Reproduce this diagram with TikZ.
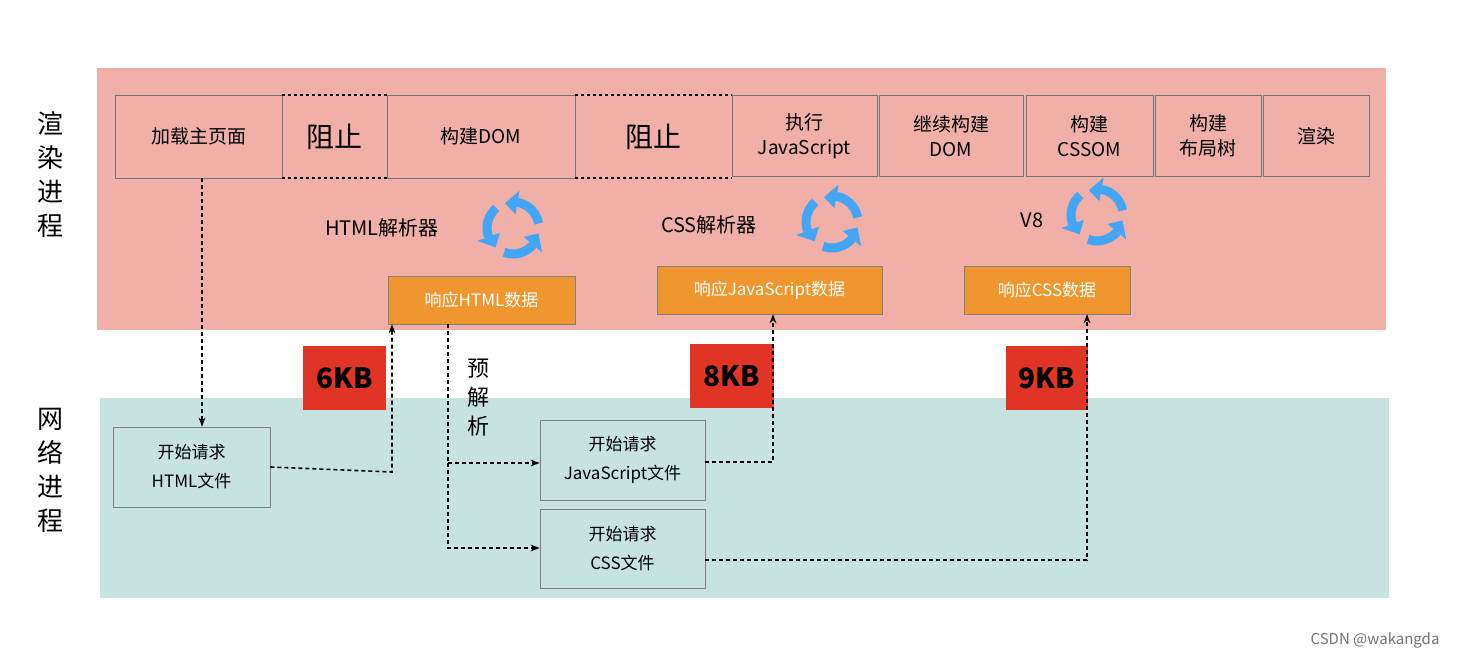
\documentclass[tikz,border=0pt]{standalone}
\usepackage{fontspec}
\setmainfont{Noto Sans CJK SC}
\usetikzlibrary{arrows.meta}
\definecolor{pinkbg}{HTML}{F0B0A8}
\definecolor{tealbg}{HTML}{C6E3DF}
\definecolor{org}{HTML}{F0962E}
\definecolor{redb}{HTML}{E03426}
\definecolor{cyc}{HTML}{42A5F5}
\tikzset{
 box/.style={draw=black!55,line width=0.8pt,font=\fontsize{19}{25}\selectfont,align=center},
 ob/.style={draw=black!50,fill=org,text=white,font=\fontsize{17}{20}\selectfont},
 rb/.style={fill=redb,font=\bfseries\fontsize{28}{30}\selectfont},
 nb/.style={draw=black!50,line width=0.8pt,fill=tealbg,font=\fontsize{17}{29}\selectfont,align=center},
 da/.style={dash pattern=on 4pt off 3pt,line width=1.6pt,-{Stealth[length=9pt]}},
 dl/.style={dash pattern=on 4pt off 3pt,line width=1.6pt},
 lbl/.style={font=\fontsize{20}{24}\selectfont},
 carc/.style={cyc,line width=9pt}
}
\newcommand{\cycleicon}[2]{%
 \foreach \a in {110,230,350}{%
  \draw[carc] ([shift={(\a:26)}]#1,#2) arc[start angle=\a,end angle=\a-70,radius=26];
  \fill[cyc] ([shift={(\a-70:14)}]#1,#2) -- ([shift={(\a-70:38)}]#1,#2) -- ([shift={(\a-98:26)}]#1,#2) -- cycle;}}
\begin{document}
\begin{tikzpicture}[x=1pt,y=-1pt]
\useasboundingbox (0,0) rectangle (1471,660);
\fill[pinkbg] (97,68) rectangle (1386,330);
\fill[tealbg] (100,398) rectangle (1389,598);
\node[lbl,align=center,font=\fontsize{26}{34}\selectfont] (r) at (50,175) {渲\\染\\进\\程};
\node[lbl,align=center,font=\fontsize{26}{34}\selectfont] (n) at (50,470) {网\\络\\进\\程};
% top row
\node[box,minimum width=167,minimum height=83] (a) at (198.5,136.5) {加载主页面};
\node[font=\fontsize{28}{30}\selectfont] (b1) at (334.5,136.5) {阻止};
\draw[dash pattern=on 3pt off 3pt,line width=1.5pt] (282,95) -- (387,95) (282,178) -- (387,178);
\node[box,minimum width=188,minimum height=83] (c) at (481,136.5) {构建DOM};
\node[font=\fontsize{28}{30}\selectfont] (b2) at (653.5,136.5) {阻止};
\draw[dash pattern=on 3pt off 3pt,line width=1.5pt] (575,95) -- (732,95) (575,178) -- (732,178);
\node[box,minimum width=145,minimum height=81] (d) at (804.5,136) {执行\\JavaScript};
\node[box,minimum width=144,minimum height=81] (e) at (951,136) {继续构建\\DOM};
\node[box,minimum width=127,minimum height=81] (f) at (1089.5,136) {构建\\CSSOM};
\node[box,minimum width=106,minimum height=81] (g) at (1208,136) {构建\\布局树};
\node[box,minimum width=106,minimum height=81] (h) at (1316,136) {渲染};
% parsers
\node[lbl] (p1) at (382,228) {HTML解析器};
\cycleicon{513}{228}
\node[lbl] (p2) at (709,225) {CSS解析器};
\cycleicon{832}{222}
\node[lbl] (p3) at (1032,220) {V8};
\cycleicon{1097}{215}
% orange
\node[ob,minimum width=187,minimum height=48] (o1) at (481.5,300) {响应HTML数据};
\node[ob,minimum width=225,minimum height=48] (o2) at (769.5,290) {响应JavaScript数据};
\node[ob,minimum width=166,minimum height=48] (o3) at (1047,290) {响应CSS数据};
% red
\node[rb,minimum width=83,minimum height=64] (k1) at (344.5,378) {6KB};
\node[rb,minimum width=84,minimum height=64] (k2) at (732,376) {8KB};
\node[rb,minimum width=82,minimum height=64] (k3) at (1047,378) {9KB};
% network
\node[nb,minimum width=157,minimum height=80] (q1) at (191.5,467) {开始请求\\HTML文件};
\node[nb,minimum width=165,minimum height=80] (q2) at (622.5,460) {开始请求\\JavaScript文件};
\node[nb,minimum width=165,minimum height=79] (q3) at (622.5,548.5) {开始请求\\CSS文件};
\node[lbl,align=center,font=\fontsize{22}{29}\selectfont] (y) at (478,398) {预\\解\\析};
% arrows
\draw[da] (a.south -| 202,0) -- (q1.north -| 202,0);
\draw[da] (q1.east) -- (392,472) -- (o1.south -| 392,0);
\coordinate (s) at (448,324);
\draw[dl] (s) -- (448,463);
\draw[da] (448,463) -- (q2.west |- 0,463);
\draw[da] (448,463) -- (448,548) -- (q3.west |- 0,548);
\draw[da] (q2.east |- 0,462) -- (773,462) -- (o2.south -| 773,0);
\draw[da] (q3.east |- 0,560) -- (1087,560) -- (o3.south -| 1087,0);
\node[text=black!55,font=\fontsize{15}{18}\selectfont] (w) at (1375,640) {CSDN @wakangda};
\end{tikzpicture}
\end{document}
